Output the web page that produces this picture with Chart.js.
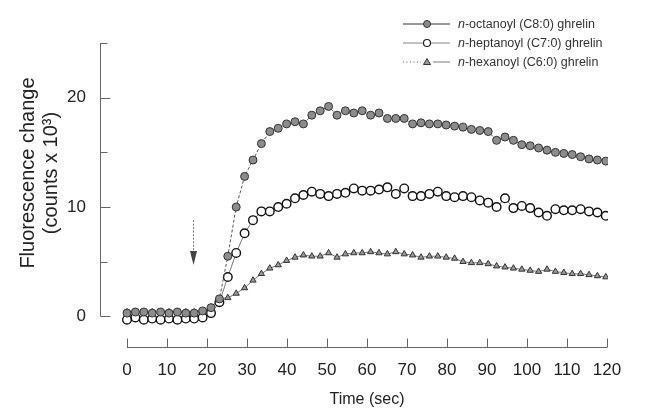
<!DOCTYPE html>
<html>
<head>
<meta charset="utf-8">
<script src="https://cdn.jsdelivr.net/npm/chart.js@4.4.1/dist/chart.umd.min.js"></script>
<style>
  body { margin: 0; background: #fff; }
  #wrap { position: relative; width: 648px; height: 414px; }
  #legend { position: absolute; left: 403px; top: 14px; font: 12.5px "Liberation Sans", Arial, sans-serif; color: #333; }
  #legend .row { display: flex; align-items: center; height: 19px; }
  #legend svg { margin-right: 7px; }
</style>
</head>
<body>
<div id="wrap">
  <canvas id="fluoChart"></canvas>
  <div id="legend">
    <div class="row">
      <svg width="48" height="10"><line x1="0" y1="5" x2="47" y2="5" stroke="#333" stroke-width="1"/><circle cx="24" cy="5" r="3.5" fill="#8c8c8c" stroke="#333"/></svg>
      <span><i>n</i>-octanoyl (C8:0) ghrelin</span>
    </div>
    <div class="row">
      <svg width="48" height="10"><line x1="0" y1="5" x2="47" y2="5" stroke="#666" stroke-width="0.8"/><circle cx="24" cy="5" r="3.5" fill="#fff" stroke="#222" stroke-width="1.2"/></svg>
      <span><i>n</i>-heptanoyl (C7:0) ghrelin</span>
    </div>
    <div class="row">
      <svg width="48" height="10"><line x1="0" y1="5" x2="18" y2="5" stroke="#666" stroke-width="1" stroke-dasharray="1,2.5"/><polygon points="24,1.5 27.5,7.5 20.5,7.5" fill="#999" stroke="#333" stroke-width="1"/><line x1="30" y1="5" x2="47" y2="5" stroke="#555" stroke-width="0.8"/></svg>
      <span><i>n</i>-hexanoyl (C6:0) ghrelin</span>
    </div>
  </div>
</div>
<script>
const times = [0, 2.1, 4.2, 6.3, 8.4, 10.5, 12.6, 14.7, 16.8, 18.9,
  21, 23.1, 25.2, 27.3, 29.4, 31.5, 33.6, 35.7, 37.8, 39.9,
  42, 44.1, 46.2, 48.3, 50.4, 52.5, 54.6, 56.7, 58.8, 60.9,
  63, 65.1, 67.2, 69.3, 71.4, 73.5, 75.6, 77.7, 79.8, 81.9,
  84, 86.1, 88.2, 90.3, 92.4, 94.5, 96.6, 98.7, 100.8, 102.9,
  105, 107.1, 109.2, 111.3, 113.4, 115.5, 117.6, 119.7];

const octanoyl = [0.3, 0.4, 0.4, 0.3, 0.4, 0.3, 0.4, 0.3, 0.3, 0.5,
  0.8, 1.6, 5.5, 10.0, 12.8, 14.3, 15.8, 16.9, 17.2,
  17.6, 17.8, 17.6, 18.4, 18.8, 19.2, 18.4, 18.8, 18.6, 18.8, 18.4, 18.6,
  18.1, 18.1, 18.1, 17.6, 17.7, 17.6, 17.6, 17.5, 17.4, 17.3, 17.1,
  17.0, 16.9, 16.1, 16.4, 16.1, 15.7, 15.6, 15.4, 15.2, 15.0, 14.9, 14.8, 14.6, 14.4, 14.3, 14.2];

const heptanoyl = [-0.3, -0.1, -0.3, -0.2, -0.3, -0.2, -0.3, -0.2, -0.2, -0.1,
  0.3, 1.3, 3.6, 5.8, 7.6, 8.8, 9.6, 9.6, 10.0,
  10.3, 10.8, 11.1, 11.4, 11.2, 11.0, 11.2, 11.3, 11.7, 11.5, 11.5, 11.6,
  11.8, 11.2, 11.7, 11.0, 11.0, 11.2, 11.4, 11.0, 10.9, 11.0, 10.9,
  10.6, 10.4, 10.0, 10.8, 9.9, 10.1, 9.9, 9.5, 9.2, 9.8, 9.7, 9.7, 9.8, 9.6, 9.5, 9.2];

const hexanoyl = [0.4, 0.4, 0.4, 0.4, 0.4, 0.4, 0.4, 0.4, 0.4, 0.5,
  0.8, 1.6, 1.7, 2.1, 2.6, 3.3, 3.9, 4.4, 4.7,
  5.1, 5.4, 5.6, 5.5, 5.5, 5.8, 5.4, 5.7, 5.8, 5.8, 5.9, 5.8,
  5.7, 5.9, 5.7, 5.6, 5.4, 5.5, 5.5, 5.4, 5.3, 5.0, 4.9,
  4.9, 4.8, 4.6, 4.5, 4.4, 4.3, 4.2, 4.1, 4.3, 4.1, 4.0, 3.9, 3.9, 3.8, 3.7, 3.6];

const yLabels = [0, 10, 20];
// ligand added (arrow): time, from / to value
const arrowAt = { t: 16.5, from: 8.8, to: 4.7 };

const FONT = '"Liberation Sans", Arial, sans-serif';
Chart.defaults.font.family = FONT;
Chart.defaults.color = "#222";

function pts(vals) {
  return vals.map((v, i) => ({ x: times[i], y: v }));
}

const axesPlugin = {
  id: "axesPlugin",
  afterDraw(chart) {
    const { ctx, scales } = chart;
    const x = scales.x, y = scales.y;
    const left = chart.chartArea.left + 0.5;
    const bottom = chart.chartArea.bottom + 0.5;
    ctx.save();
    ctx.strokeStyle = "#666";
    ctx.lineWidth = 1;
    // y axis
    ctx.beginPath();
    ctx.moveTo(left, y.getPixelForValue(25));
    ctx.lineTo(left, y.getPixelForValue(0));
    y.ticks.forEach(tk => {
      const py = Math.round(y.getPixelForValue(tk.value)) + 0.5;
      ctx.moveTo(left, py);
      ctx.lineTo(left + (tk.value % 10 === 0 ? 10 : 7), py);
    });
    // x axis
    ctx.moveTo(x.getPixelForValue(0), bottom);
    ctx.lineTo(x.getPixelForValue(120), bottom);
    x.ticks.forEach(tk => {
      const px = Math.round(x.getPixelForValue(tk.value)) + 0.5;
      ctx.moveTo(px, bottom);
      ctx.lineTo(px, bottom - 9);
    });
    ctx.stroke();

    // arrow
    const ax = Math.round(x.getPixelForValue(arrowAt.t)) + 0.5;
    const ay0 = y.getPixelForValue(arrowAt.from);
    const ay1 = y.getPixelForValue(arrowAt.to);
    ctx.strokeStyle = "#777";
    ctx.setLineDash([2, 1.5]);
    ctx.beginPath();
    ctx.moveTo(ax, ay0);
    ctx.lineTo(ax, ay1 - 12);
    ctx.stroke();
    ctx.setLineDash([]);
    ctx.fillStyle = "#444";
    ctx.beginPath();
    ctx.moveTo(ax - 3.5, ay1 - 14);
    ctx.lineTo(ax + 3.5, ay1 - 14);
    ctx.lineTo(ax, ay1);
    ctx.closePath();
    ctx.fill();

    // axis titles
    ctx.fillStyle = "#222";
    ctx.textAlign = "center";
    ctx.textBaseline = "middle";
    ctx.font = "16px " + FONT;
    ctx.fillText("Time (sec)", x.getPixelForValue(60), 400);
    ctx.save();
    ctx.translate(28, 173);
    ctx.rotate(-Math.PI / 2);
    ctx.font = "20px " + FONT;
    ctx.fillText("Fluorescence change", 0, 0);
    ctx.fillText("(counts x 10\u00B3)", 0, 23);
    ctx.restore();
    ctx.restore();
  }
};

new Chart(document.getElementById("fluoChart"), {
  type: "line",
  data: {
    datasets: [
      {
        label: "n-octanoyl (C8:0) ghrelin",
        data: pts(octanoyl),
        borderColor: "#555",
        borderWidth: 1,
        borderDash: [3, 2],
        pointRadius: 4,
        pointBackgroundColor: "#8c8c8c",
        pointBorderColor: "#333",
        pointBorderWidth: 1,
        tension: 0,
      },
      {
        label: "n-heptanoyl (C7:0) ghrelin",
        data: pts(heptanoyl),
        borderColor: "#555",
        borderWidth: 0.8,
        pointRadius: 4.3,
        pointBackgroundColor: "#fff",
        pointBorderColor: "#111",
        pointBorderWidth: 1.4,
        tension: 0,
      },
      {
        label: "n-hexanoyl (C6:0) ghrelin",
        data: pts(hexanoyl),
        borderColor: "#555",
        borderWidth: 0.8,
        pointStyle: "triangle",
        pointRadius: 3.6,
        pointBackgroundColor: "#999",
        pointBorderColor: "#333",
        pointBorderWidth: 1,
        tension: 0,
      },
    ],
  },
  options: {
    responsive: true,
    maintainAspectRatio: false,
    animation: false,
    layout: { padding: { top: 43, right: 40, left: 0, bottom: 0 } },
    plugins: {
      legend: { display: false },
      tooltip: { enabled: false },
    },
    scales: {
      x: {
        type: "linear",
        min: -6.75,
        max: 120.25,
        border: { display: false },
        grid: { display: false, drawTicks: false },
        ticks: {
          stepSize: 10,
          includeBounds: false,
          autoSkip: false,
          maxRotation: 0,
          padding: 13,
          color: "#222",
          font: { size: 17 },
        },
        afterFit: s => { s.height = 67; },
      },
      y: {
        min: -2.8,
        max: 25,
        border: { display: false },
        grid: { display: false, drawTicks: false },
        ticks: {
          stepSize: 5,
          includeBounds: false,
          padding: 14,
          color: "#222",
          font: { size: 17 },
          callback: v => (yLabels.includes(v) ? v : ""),
        },
        afterFit: s => { s.width = 100; },
      },
    },
  },
  plugins: [axesPlugin],
});
</script>
</body>
</html>
